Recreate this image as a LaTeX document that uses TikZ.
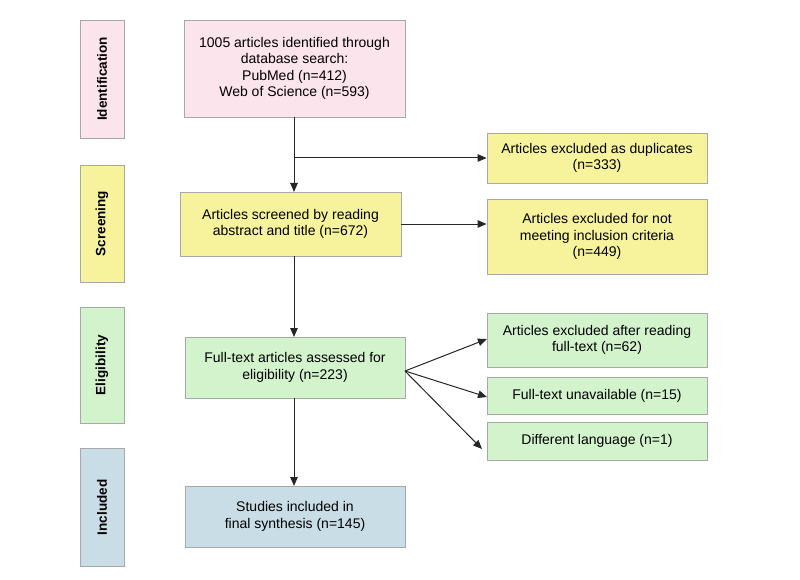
\documentclass[tikz,border=0pt]{standalone}
\usepackage{fontspec}
\setmainfont{Liberation Sans}
\usetikzlibrary{arrows.meta}
\definecolor{cpink}{HTML}{FCE4EC}
\definecolor{cyel}{HTML}{F7F29C}
\definecolor{cgreen}{HTML}{D3F3CD}
\definecolor{cblue}{HTML}{C8DDE6}
\definecolor{cborder}{HTML}{A8A8A8}
\tikzset{
  x=1pt, y=-1pt,
  box/.style={draw=cborder, line width=0.8pt, align=center, font=\fontsize{14}{16.5}\selectfont, inner sep=0pt},
  side/.style={draw=cborder, line width=0.8pt, font=\bfseries\fontsize{13.5}{15}\selectfont, inner sep=0pt, rotate=90},
  arr/.style={-{Triangle[length=9pt,width=7.5pt]}, line width=1pt, black!85},
  ln/.style={line width=1pt, black!85}
}
\begin{document}
\begin{tikzpicture}
\useasboundingbox (0,0) rectangle (800,580);
% side labels
\node[side, fill=cpink, minimum width=118pt, minimum height=44pt] (s1) at (102,79) {Identification};
\node[side, fill=cyel, minimum width=117pt, minimum height=44pt] (s2) at (102,223.5) {Screening};
\node[side, fill=cgreen, minimum width=116pt, minimum height=44pt] (s3) at (102,365) {Eligibility};
\node[side, fill=cblue, minimum width=118pt, minimum height=44pt] (s4) at (102,507.5) {Included};
% main boxes
\node[box, fill=cpink, minimum width=221pt, minimum height=97pt] (a) at (294.5,68.5) {1005 articles identified through\\database search:\\PubMed (n=412)\\Web of Science (n=593)};
\node[box, fill=cyel, minimum width=221pt, minimum height=64pt] (b) at (290.5,224) {Articles screened by reading\\abstract and title (n=672)};
\node[box, fill=cgreen, minimum width=220pt, minimum height=61pt] (c) at (295,367.5) {Full-text articles assessed for\\eligibility (n=223)};
\node[box, fill=cblue, minimum width=220pt, minimum height=61pt] (d) at (295,516.5) {Studies included in\\final synthesis (n=145)};
% right boxes
\node[box, fill=cyel, minimum width=220pt, minimum height=50pt] (r1) at (597,158) {Articles excluded as duplicates\\(n=333)};
\node[box, fill=cyel, minimum width=220pt, minimum height=75pt] (r2) at (597,236.5) {Articles excluded for not\\meeting inclusion criteria\\(n=449)};
\node[box, fill=cgreen, minimum width=220pt, minimum height=54pt] (r3) at (597,340) {Articles excluded after reading\\full-text (n=62)};
\node[box, fill=cgreen, minimum width=220pt, minimum height=37pt] (r4) at (597,395.5) {Full-text unavailable (n=15)};
\node[box, fill=cgreen, minimum width=220pt, minimum height=38pt] (r5) at (597,441) {Different language (n=1)};
% connectors
\coordinate (j1) at (294,158);
\draw[ln] (294,117) -- (j1);
\draw[arr] (j1) -- (294,192);
\draw[arr] (j1) -- (r1.west);
\draw[arr] (b.east) -- (r2.west |- b.east);
\draw[arr] (294,256) -- (294,337);
\coordinate (f) at (405,371);
\draw[arr] (f) -- (487,339);
\draw[arr] (f) -- (487,397);
\draw[arr] (f) -- (482,449);
\draw[arr] (294,398) -- (294,486);
\end{tikzpicture}
\end{document}
